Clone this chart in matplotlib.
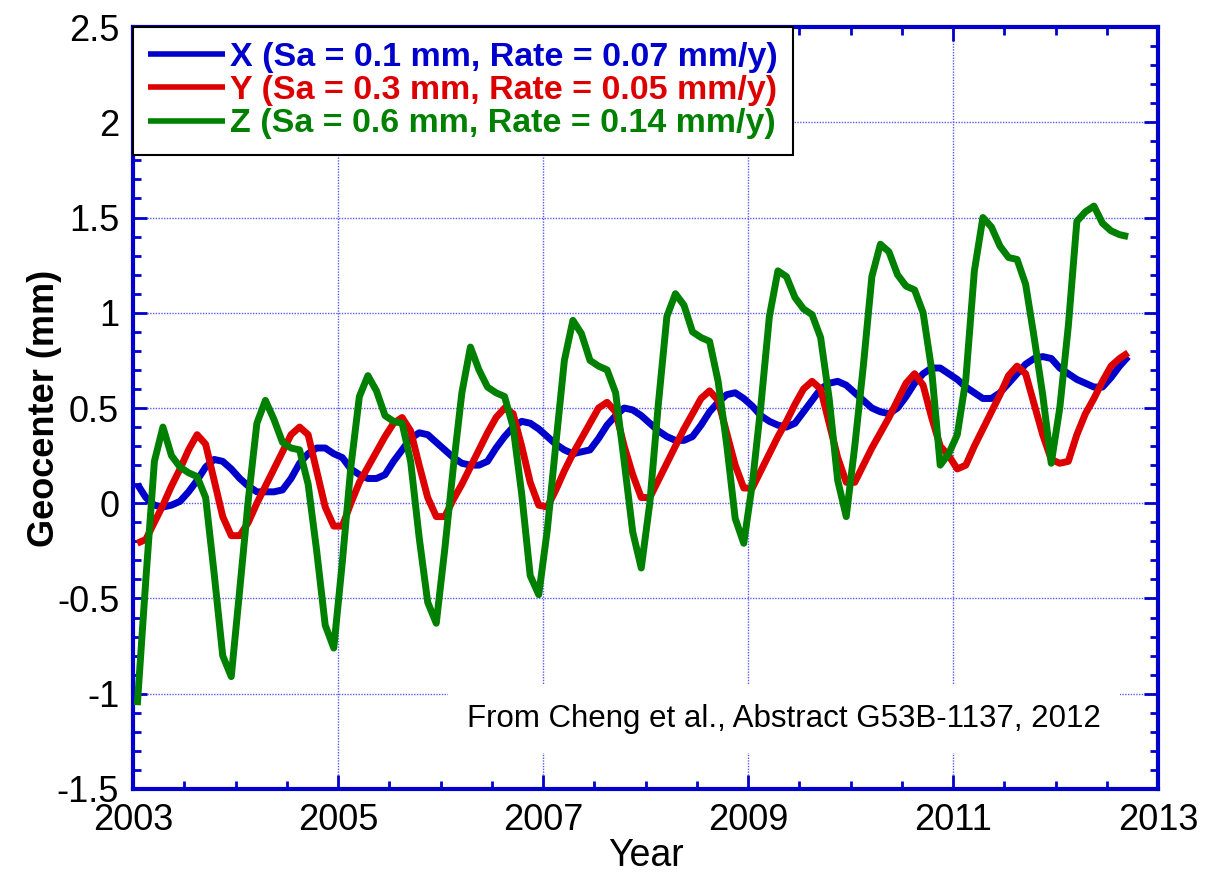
import numpy as np
import matplotlib
matplotlib.use("Agg")
import matplotlib.pyplot as plt
from matplotlib.ticker import MultipleLocator, FixedLocator, FuncFormatter

plt.rcParams['font.family'] = ['Liberation Sans', 'DejaVu Sans']
plt.rcParams['axes.unicode_minus'] = False

# ---- data (monthly values, mid-month samples starting Jan 2003) ----
start_year = 2003
x_vals = [  # X geocenter (mm)
    0.10, 0.03, -0.01, -0.02, -0.01, 0.01, 0.06, 0.12, 0.19, 0.23, 0.22, 0.18,
    0.13, 0.09, 0.06, 0.06, 0.06, 0.07, 0.13, 0.21, 0.26, 0.29, 0.29, 0.26,
    0.24, 0.18, 0.15, 0.13, 0.13, 0.15, 0.22, 0.28, 0.34, 0.37, 0.36, 0.32,
    0.28, 0.24, 0.21, 0.20, 0.20, 0.22, 0.29, 0.35, 0.40, 0.43, 0.42, 0.39,
    0.35, 0.31, 0.28, 0.26, 0.27, 0.28, 0.34, 0.41, 0.46, 0.50, 0.49, 0.46,
    0.42, 0.38, 0.35, 0.33, 0.33, 0.35, 0.41, 0.48, 0.53, 0.57, 0.58, 0.55,
    0.51, 0.46, 0.43, 0.41, 0.40, 0.42, 0.48, 0.54, 0.60, 0.63, 0.64, 0.62,
    0.58, 0.54, 0.50, 0.48, 0.47, 0.50, 0.56, 0.63, 0.68, 0.71, 0.71, 0.68,
    0.65, 0.61, 0.58, 0.55, 0.55, 0.58, 0.63, 0.68, 0.73, 0.76, 0.77, 0.76,
    0.71, 0.68, 0.65, 0.63, 0.61, 0.61, 0.66, 0.72, 0.77,
]
y_vals = [  # Y geocenter (mm)
    -0.21, -0.19, -0.10, -0.01, 0.09, 0.18, 0.28, 0.36, 0.31, 0.12, -0.07, -0.17,
    -0.17, -0.10, 0.00, 0.09, 0.18, 0.27, 0.36, 0.40, 0.36, 0.17, -0.02, -0.12,
    -0.12, 0.00, 0.11, 0.19, 0.27, 0.35, 0.42, 0.45, 0.38, 0.20, 0.03, -0.07,
    -0.07, 0.02, 0.10, 0.19, 0.28, 0.37, 0.45, 0.50, 0.47, 0.30, 0.11, -0.01,
    -0.02, 0.07, 0.17, 0.26, 0.34, 0.42, 0.50, 0.53, 0.48, 0.30, 0.15, 0.03,
    0.03, 0.12, 0.21, 0.30, 0.39, 0.47, 0.55, 0.59, 0.54, 0.37, 0.20, 0.08,
    0.08, 0.17, 0.26, 0.35, 0.43, 0.52, 0.60, 0.64, 0.60, 0.42, 0.24, 0.11,
    0.11, 0.20, 0.29, 0.37, 0.45, 0.54, 0.63, 0.68, 0.62, 0.45, 0.30, 0.25,
    0.18, 0.20, 0.30, 0.39, 0.48, 0.57, 0.67, 0.72, 0.68, 0.52, 0.36, 0.23,
    0.21, 0.22, 0.36, 0.47, 0.55, 0.64, 0.72, 0.76, 0.79,
]
z_vals = [  # Z geocenter (mm)
    -1.06, -0.40, 0.22, 0.40, 0.25, 0.19, 0.16, 0.14, 0.03, -0.37, -0.80, -0.91,
    -0.45, 0.02, 0.42, 0.54, 0.44, 0.32, 0.29, 0.28, 0.10, -0.25, -0.64, -0.76,
    -0.31, 0.19, 0.56, 0.67, 0.59, 0.46, 0.43, 0.42, 0.22, -0.18, -0.52, -0.63,
    -0.24, 0.19, 0.58, 0.82, 0.70, 0.61, 0.58, 0.56, 0.40, 0.05, -0.38, -0.48,
    -0.14, 0.31, 0.75, 0.96, 0.89, 0.75, 0.72, 0.70, 0.58, 0.22, -0.15, -0.34,
    0.00, 0.52, 0.98, 1.10, 1.04, 0.90, 0.87, 0.85, 0.64, 0.31, -0.08, -0.21,
    0.10, 0.51, 0.98, 1.22, 1.19, 1.08, 1.02, 0.99, 0.87, 0.55, 0.12, -0.07,
    0.30, 0.72, 1.19, 1.36, 1.32, 1.20, 1.14, 1.12, 1.00, 0.70, 0.20, 0.26,
    0.36, 0.65, 1.22, 1.50, 1.45, 1.35, 1.29, 1.28, 1.15, 0.87, 0.57, 0.21,
    0.50, 0.93, 1.48, 1.53, 1.56, 1.47, 1.43, 1.41, 1.40,
]
labels = [
    "X (Sa = 0.1 mm, Rate = 0.07 mm/y)",
    "Y (Sa = 0.3 mm, Rate = 0.05 mm/y)",
    "Z (Sa = 0.6 mm, Rate = 0.14 mm/y)",
]
year_ticks = [2003, 2005, 2007, 2009, 2011, 2013]
colors = ["#0000CC", "#DD0000", "#008000"]
note = "From Cheng et al., Abstract G53B-1137, 2012"

months = np.arange(len(x_vals))
t = start_year + (months + 0.5) / 12.0

fig = plt.figure(figsize=(12.05, 8.72), dpi=100)
ax = fig.add_axes([0.1104, 0.0952, 0.8506, 0.8738])

for vals, c, lab in zip([x_vals, y_vals, z_vals], colors, labels):
    ax.plot(t, vals, color=c, lw=5, label=lab, solid_joinstyle='round',
            solid_capstyle='butt', zorder=3)

ax.set_xlim(2003, 2013)
ax.set_ylim(-1.5, 2.5)

ax.xaxis.set_major_locator(FixedLocator(year_ticks))
ax.xaxis.set_minor_locator(MultipleLocator(0.5))
ax.yaxis.set_major_locator(MultipleLocator(0.5))
ax.yaxis.set_minor_locator(MultipleLocator(0.1))

def fmt(v, pos):
    s = ("%.1f" % v).rstrip('0').rstrip('.')
    return "0" if s in ("-0", "") else s
ax.yaxis.set_major_formatter(FuncFormatter(fmt))
ax.xaxis.set_major_formatter(FuncFormatter(lambda v, p: "%d" % round(v)))

spine_c = "#0000CC"
for s in ax.spines.values():
    s.set_color(spine_c)
    s.set_linewidth(3)

ax.tick_params(which='both', direction='in', top=True, right=True,
               color=spine_c, labelsize=26, labelcolor='black')
ax.tick_params(which='major', length=10, width=2)
ax.tick_params(which='minor', length=6, width=2)
ax.tick_params(axis='y', which='major', pad=10)
ax.tick_params(axis='x', which='major', pad=10)

ax.grid(True, which='major', color='#5a5aee', linestyle=(0, (1, 1)), lw=1.0, zorder=0)
ax.set_axisbelow(True)

ax.set_xlabel("Year", fontsize=27)
ax.set_ylabel("Geocenter (mm)", fontsize=26, fontweight='bold')
ax.yaxis.set_label_coords(-0.069, 0.5)
ax.xaxis.set_label_coords(0.5, -0.064)

leg = ax.legend(loc='upper left', bbox_to_anchor=(0, 1), borderaxespad=0,
                prop={'weight': 'bold', 'size': 24.5}, handlelength=2.25,
                handletextpad=0.15, labelspacing=0.06, borderpad=0.45,
                fancybox=False, edgecolor='black', framealpha=1,
                labelcolor='linecolor')
leg.get_frame().set_linewidth(1.5)
leg.set_zorder(5)
for h in leg.legend_handles:
    h.set_linewidth(4)

ax.text(2009.35, -1.13, note, fontsize=22.5, ha='center', va='center',
        zorder=2, bbox=dict(facecolor='white', edgecolor='none', pad=14))

fig.savefig("out.png", dpi=100)
